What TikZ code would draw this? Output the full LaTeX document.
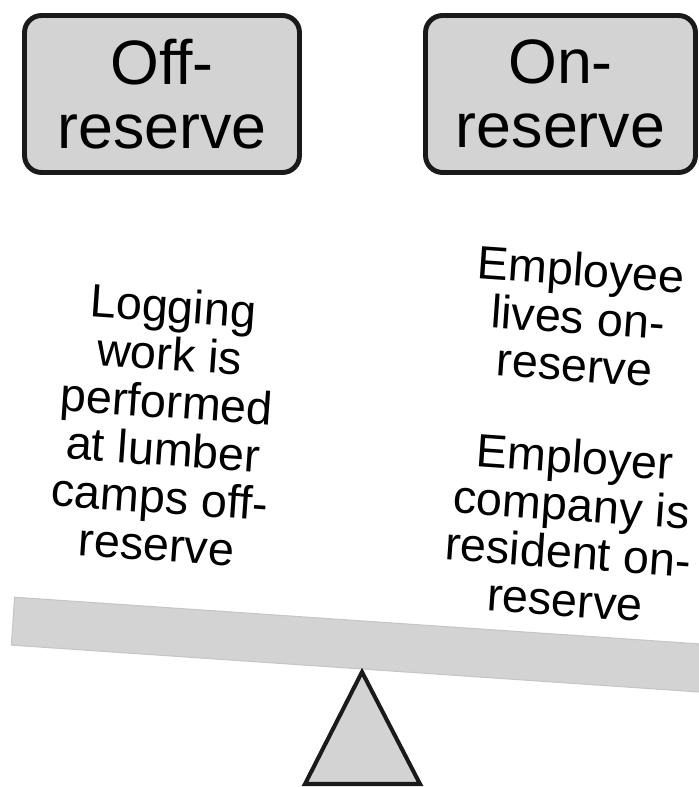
\documentclass[tikz,border=0pt]{standalone}
\usepackage{fontspec}
\setmainfont{Liberation Sans}
\usepackage{xcolor}
\usetikzlibrary{positioning}

\definecolor{boxgray}{HTML}{D3D3D3}
\definecolor{beamedge}{HTML}{C6C6C6}
\definecolor{inkline}{HTML}{1A1A1A}

\begin{document}
\begin{tikzpicture}[
    x=0.02cm, y=0.02cm,
    side/.style={rectangle, rounded corners=0.34cm, draw=inkline, line width=2.8pt, fill=boxgray,
        minimum height=3.14cm, align=center, inner sep=0pt,
        font=\fontsize{35.7}{36.8}\selectfont},
    reason/.style={align=center, rotate=-4, inner sep=0pt,
        font=\fontsize{26.6}{27.2}\selectfont},
    plank/.style={rectangle, draw=beamedge, line width=0.6pt, fill=boxgray,
        minimum width=15.2cm, minimum height=0.96cm, rotate=-3.9, inner sep=0pt},
    pivot/.style={draw=inkline, line width=2.3pt, fill=boxgray, line join=miter}
]
\useasboundingbox (0,0) rectangle (698,-787);

\node[side, minimum width=5.5cm] (off) at (162,-94) {Off-\\reserve};
\node[side, minimum width=5.4cm] (on) at (560.5,-94) {On-\\reserve};

% the seesaw
\node[plank] (beam) at (392,-647) {};
\draw[pivot] (362,-672) coordinate (tip) -- (305,-784) -- (420,-784) -- cycle;

\node[reason] (logging) at (165,-425) {Logging\\work is\\performed\\at lumber\\camps off-\\reserve};
\node[reason] (lives) at (578,-317) {Employee\\lives on-\\reserve};
\node[reason] (company) at (570,-528) {Employer\\company is\\resident on-\\reserve};
\end{tikzpicture}
\end{document}
